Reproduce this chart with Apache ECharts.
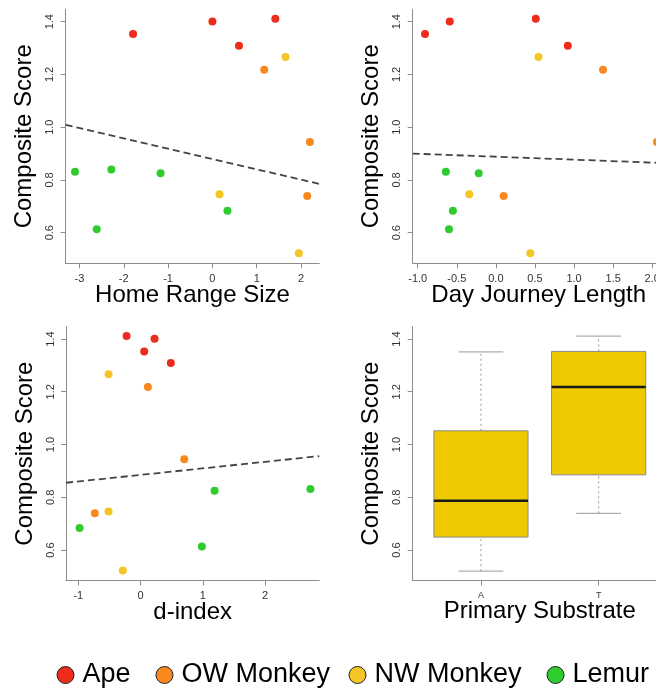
<!DOCTYPE html>
<html><head><meta charset="utf-8">
<script src="https://cdn.jsdelivr.net/npm/echarts@6/dist/echarts.min.js"></script>
<style>html,body{margin:0;padding:0;background:#fff}#chart{width:656px;height:688px}</style>
</head><body><div id="chart"></div>
<script>
// ---------- data ----------
const groups = ['Ape', 'OW Monkey', 'NW Monkey', 'Lemur'];

const apeScore = [1.353, 1.401, 1.411, 1.309];
const owScore = [1.218, 0.944, 0.739];
const nwScore = [1.266, 0.746, 0.522];
const lemurScore = [0.831, 0.840, 0.825, 0.613, 0.683];

const apeHomeRange = [-1.79, 0.00, 1.42, 0.60];
const owHomeRange = [1.17, 2.20, 2.14];
const nwHomeRange = [1.65, 0.16, 1.95];
const lemurHomeRange = [-3.10, -2.28, -1.17, -2.61, 0.34];

const apeDayJourney = [-0.907, -0.59, 0.51, 0.92];
const owDayJourney = [1.37, 2.06, 0.10];
const nwDayJourney = [0.545, -0.34, 0.44];
const lemurDayJourney = [-0.64, null, -0.22, -0.60, -0.55];

const apeDIndex = [0.059, 0.225, -0.225, 0.487];
const owDIndex = [0.118, 0.702, -0.735];
const nwDIndex = [-0.514, -0.514, -0.284];
const lemurDIndex = [2.73, null, 1.19, 0.986, -0.98];

const homeRangeTrend = [[-3.31, 1.009], [2.412, 0.785]];
const dayJourneyTrend = [[-1.064, 0.900], [2.159, 0.864]];
const dIndexTrend = [[-1.198, 0.855], [2.873, 0.956]];

const substrateCategories = ['A', 'T'];
const substrateBoxStats = [
  [0.520, 0.649, 0.787, 1.052, 1.351],
  [0.739, 0.885, 1.218, 1.353, 1.411]
];

const scoreTicks = [0.6, 0.8, 1.0, 1.2, 1.4];
const homeRangeTicks = [-3, -2, -1, 0, 1, 2];
const dayJourneyTicks = [-1.0, -0.5, 0.0, 0.5, 1.0, 1.5, 2.0];
const dIndexTicks = [-1, 0, 1, 2];
const substrateTicks = [1, 2];

// ---------- styling ----------
const groupColors = ['#ee2c1c', '#f7891f', '#f4c625', '#2fcc2f'];
const FONT = 'Liberation Sans, Arial, Helvetica, sans-serif';
const AXIS_GREY = '#8c8c8c';

const scoresByGroup = [apeScore, owScore, nwScore, lemurScore];
const predictors = [
  [apeHomeRange, owHomeRange, nwHomeRange, lemurHomeRange],
  [apeDayJourney, owDayJourney, nwDayJourney, lemurDayJourney],
  [apeDIndex, owDIndex, nwDIndex, lemurDIndex]
];
const trends = [homeRangeTrend, dayJourneyTrend, dIndexTrend];

const grids = [
  { left: 65.7, top: 9.3, width: 253.6, height: 254 },
  { left: 412.7, top: 9.3, width: 252, height: 254 },
  { left: 66, top: 326.6, width: 253.3, height: 254 },
  { left: 412.7, top: 326.6, width: 254.2, height: 254 }
].map(g => Object.assign({ containLabel: false, outerBoundsMode: 'none' }, g));

function xAxisCfg(idx, min, max, ticks, fmt, name, labelSize, gap) {
  return {
    type: 'value', gridIndex: idx, min: min, max: max,
    name: name, nameLocation: 'middle', nameGap: gap || 20, nameMoveOverlap: false,
    nameTextStyle: { fontSize: 24, color: '#000', fontFamily: FONT },
    axisLine: { show: true, onZero: false, lineStyle: { color: AXIS_GREY, width: 1 } },
    axisTick: { show: true, length: 5, customValues: ticks, lineStyle: { color: AXIS_GREY } },
    axisLabel: { show: true, customValues: ticks, formatter: fmt, margin: 10,
      fontSize: labelSize || 11, color: '#333', fontFamily: FONT },
    splitLine: { show: false }
  };
}
function yAxisCfg(idx) {
  return {
    type: 'value', gridIndex: idx, min: 0.484, max: 1.447,
    name: 'Composite Score', nameLocation: 'middle', nameGap: 29, nameMoveOverlap: false,
    nameTextStyle: { fontSize: 24, color: '#000', fontFamily: FONT },
    axisLine: { show: true, onZero: false, lineStyle: { color: AXIS_GREY, width: 1 } },
    axisTick: { show: true, length: 5, customValues: scoreTicks, lineStyle: { color: AXIS_GREY } },
    axisLabel: { show: true, customValues: scoreTicks, rotate: 90, margin: 10,
      formatter: v => Number(v).toFixed(1), fontSize: 11, color: '#333', fontFamily: FONT },
    splitLine: { show: false }
  };
}

const xAxes = [
  xAxisCfg(0, -3.31, 2.412, homeRangeTicks, v => String(Math.round(v)), 'Home Range Size'),
  xAxisCfg(1, -1.064, 2.159, dayJourneyTicks, v => Number(v).toFixed(1), 'Day Journey Length'),
  xAxisCfg(2, -1.198, 2.873, dIndexTicks, v => String(Math.round(v)), 'd-index'),
  xAxisCfg(3, 0.42, 2.58, substrateTicks, v => substrateCategories[Math.round(v) - 1], 'Primary Substrate', 9, 19)
];
const yAxes = [0, 1, 2, 3].map(yAxisCfg);

const series = [];
// trend lines
trends.forEach((t, p) => {
  series.push({
    type: 'line', xAxisIndex: p, yAxisIndex: p, data: t, symbol: 'none', silent: true,
    lineStyle: { color: '#444', width: 1.8, type: [7, 4] }, z: 1
  });
});
// scatter points
predictors.forEach((pred, p) => {
  groups.forEach((g, gi) => {
    const data = [];
    pred[gi].forEach((x, k) => { if (x !== null) data.push([x, scoresByGroup[gi][k]]); });
    series.push({
      type: 'scatter', name: g, xAxisIndex: p, yAxisIndex: p, data: data,
      symbol: 'circle', symbolSize: 8, itemStyle: { color: groupColors[gi], opacity: 1 }, z: 3
    });
  });
});
// box plot (panel 4)
series.push({
  type: 'custom', xAxisIndex: 3, yAxisIndex: 3,
  data: substrateBoxStats.map((s, i) => [substrateTicks[i]].concat(s)),
  encode: { x: 0, y: [1, 2, 3, 4, 5] },
  renderItem: function (params, api) {
    const x = api.value(0), lo = api.value(1), q1 = api.value(2), med = api.value(3), q3 = api.value(4), hi = api.value(5);
    const half = 0.4, st = 0.19;
    const c = (a, b) => api.coord([a, b]);
    const pTL = c(x - half, q3), pBR = c(x + half, q1);
    const line = (a, b, style) => ({ type: 'line', shape: { x1: a[0], y1: a[1], x2: b[0], y2: b[1] }, style: style });
    const whisk = { stroke: '#999', lineWidth: 1, lineDash: [2, 3] };
    const staple = { stroke: '#999', lineWidth: 1 };
    return {
      type: 'group',
      children: [
        line(c(x, q3), c(x, hi), whisk),
        line(c(x, lo), c(x, q1), whisk),
        line(c(x - st, hi), c(x + st, hi), staple),
        line(c(x - st, lo), c(x + st, lo), staple),
        { type: 'rect', shape: { x: pTL[0], y: pTL[1], width: pBR[0] - pTL[0], height: pBR[1] - pTL[1] },
          style: { fill: '#eec900', stroke: '#8a8a8a', lineWidth: 1 } },
        line(c(x - half, med), c(x + half, med), { stroke: '#1a1a1a', lineWidth: 2.6 })
      ]
    };
  },
  z: 2
});

const legendCenters = [65, 164, 357, 555];
const legends = groups.map((g, gi) => ({
  data: [g], left: legendCenters[gi] - 8.5, top: 661.5, padding: 0,
  orient: 'horizontal', selectedMode: false,
  icon: 'circle', itemWidth: 24, itemHeight: 17,
  itemStyle: { borderColor: '#222', borderWidth: 1 },
  textStyle: { fontSize: 27, color: '#000', fontFamily: FONT }
}));

const chart = echarts.init(document.getElementById('chart'), null, { renderer: 'canvas' });
chart.setOption({
  backgroundColor: '#fff',
  animation: false,
  grid: grids,
  xAxis: xAxes,
  yAxis: yAxes,
  legend: legends,
  series: series
});
</script>
</body></html>
